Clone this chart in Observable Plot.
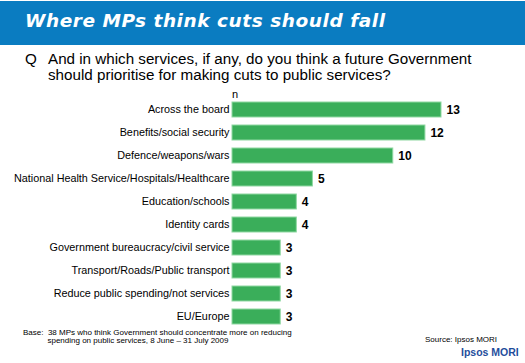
<!DOCTYPE html>
<html><head><meta charset="utf-8">
<script src="https://cdn.jsdelivr.net/npm/d3@7"></script>
<script src="https://cdn.jsdelivr.net/npm/@observablehq/plot@0.6"></script>
<style>
html,body{margin:0;padding:0;background:#fff;}
body{width:525px;height:363px;position:relative;overflow:hidden;font-family:"Liberation Sans",Arial,sans-serif;}
#hdr{position:absolute;left:0;top:1px;width:525px;height:44px;background:#0a7cc1;}
#title{position:absolute;left:25px;top:10px;color:#fff;font-family:"DejaVu Sans",sans-serif;font-weight:bold;font-style:italic;font-size:18.5px;letter-spacing:0.55px;white-space:nowrap;}
#q{position:absolute;left:25px;top:51px;font-size:15.2px;line-height:16px;color:#000;}
#qt{position:absolute;left:48px;top:51px;font-size:15.2px;line-height:16px;color:#000;white-space:nowrap;}
#n{position:absolute;left:232px;top:88px;font-size:11px;}
#chart{position:absolute;left:0;top:88px;}
#base{position:absolute;left:23px;top:329px;font-size:8px;line-height:8px;white-space:nowrap;}
#src{position:absolute;left:425px;top:335px;font-size:8px;white-space:nowrap;}
#logo{position:absolute;left:461px;top:346px;font-size:10.5px;font-weight:bold;color:#1f4e9c;white-space:nowrap;}
</style></head>
<body>
<div id="hdr"></div>
<div id="title">Where MPs think cuts should fall</div>
<div id="q">Q</div>
<div id="qt">And in which services, if any, do you think a future Government<br>should prioritise for making cuts to public services?</div>
<div id="n">n</div>
<div id="chart"></div>
<div id="base">Base:&nbsp; 38 MPs who think Government should concentrate more on reducing<br>&nbsp;&nbsp;&nbsp;&nbsp;&nbsp;&nbsp;&nbsp;&nbsp;&nbsp;&nbsp;&nbsp;spending on public services, 8 June – 31 July 2009</div>
<div id="src">Source: Ipsos MORI</div>
<div id="logo">Ipsos MORI</div>
<script>
const categories = [
  "Across the board",
  "Benefits/social security",
  "Defence/weapons/wars",
  "National Health Service/Hospitals/Healthcare",
  "Education/schools",
  "Identity cards",
  "Government bureaucracy/civil service",
  "Transport/Roads/Public transport",
  "Reduce public spending/not services",
  "EU/Europe"
];
const values = [13, 12, 10, 5, 4, 4, 3, 3, 3, 3];
const data = categories.map((c, i) => ({category: c, value: values[i]}));

const chart = Plot.plot({
  width: 525,
  height: 242,
  marginLeft: 232,
  marginRight: 84,
  marginTop: 10,
  marginBottom: 2,
  style: {fontFamily: "'Liberation Sans', Arial, sans-serif", fontSize: "10.8px", color: "#000", background: "transparent"},
  x: {domain: [0, 13], axis: null},
  y: {domain: categories, paddingInner: 0.36, paddingOuter: 0.18, label: null, tickSize: 0, tickPadding: 3},
  marks: [
    Plot.barX(data, {x: "value", y: "category", fill: "#3aae5a", stroke: "#8fd8a2", strokeWidth: 1}),
    Plot.text(data, {x: "value", y: "category", text: d => String(d.value), textAnchor: "start", dx: 5, fontWeight: "bold", fontSize: 12, fill: "#000"})
  ]
});
document.getElementById("chart").appendChild(chart);
</script>
</body></html>
